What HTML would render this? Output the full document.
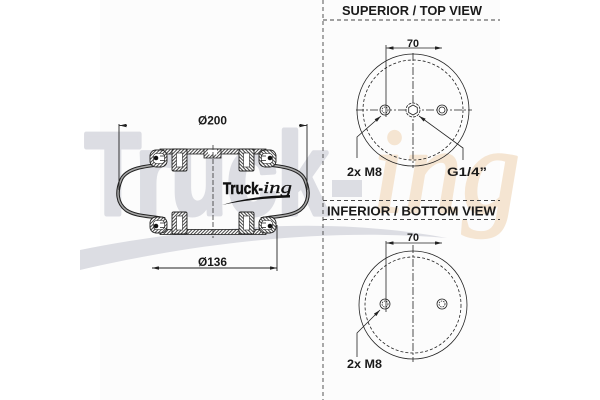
<!DOCTYPE html>
<html><head><meta charset="utf-8"><style>
html,body{margin:0;padding:0;background:#fff;}
svg{display:block;}
</style></head><body>
<svg width="600" height="400" viewBox="0 0 600 400" xmlns="http://www.w3.org/2000/svg">
<defs>
<pattern id="h" width="2.4" height="2.4" patternUnits="userSpaceOnUse" patternTransform="rotate(45)">
<rect width="2.4" height="2.4" fill="#fff"/><line x1="0.5" y1="0" x2="0.5" y2="2.4" stroke="#444" stroke-width="1"/></pattern>
<marker id="a" viewBox="0 0 8 4" refX="8" refY="2" markerWidth="7" markerHeight="3.5" markerUnits="userSpaceOnUse" orient="auto"><path d="M0,0 L8,2 L0,4 Z" fill="#222"/></marker>
</defs>
<rect x="100" y="0" width="400" height="400" fill="#fcfcfc"/>

<!-- watermark -->
<text x="85" y="214" font-family="Liberation Sans, sans-serif" font-weight="bold" font-size="116" fill="#dcdde3" stroke="#dcdde3" stroke-width="5" stroke-linejoin="round" textLength="243" lengthAdjust="spacingAndGlyphs">Truck</text>
<rect x="332" y="180" width="30" height="17" fill="#dcdde3"/>
<text x="372" y="212" font-family="Liberation Serif, serif" font-style="italic" font-size="122" fill="#f5e5d2" stroke="#f5e5d2" stroke-width="2.5" stroke-linejoin="round" textLength="148" lengthAdjust="spacingAndGlyphs">ing</text>
<path d="M80,250 C200,226 330,216 447,238 C330,228 200,242 80,270 Z" fill="#dcdde3"/>

<!-- bellows -->
<g stroke="#222" stroke-width="0.8">
<rect x="160" y="149" width="106" height="5" fill="url(#h)"/>
<rect x="204" y="149" width="17" height="9" fill="url(#h)"/>
<rect x="208" y="149.5" width="9" height="5" fill="#fff" stroke="none"/>
<rect x="160" y="229.5" width="106" height="5" fill="url(#h)"/>
</g>
<g id="half" stroke="#222">
<path d="M165,164 C145,166 126,168 121,180 C116,192 117,203 126,210 C136,217 152,216 165,219" fill="none" stroke="#222" stroke-width="3.6"/>
<path d="M165,164 C145,166 126,168 121,180 C116,192 117,203 126,210 C136,217 152,216 165,219" fill="none" stroke="#a8a8a8" stroke-width="1.5"/>
<rect x="150" y="150" width="17" height="17" rx="6" fill="url(#h)" stroke-width="0.9"/>
<rect x="153.5" y="153.5" width="11" height="10" rx="3" fill="#fff" stroke-width="0.6"/>
<circle cx="156" cy="158" r="2.3" fill="#111" stroke="none"/>
<path d="M160,156 H165 M160,160.5 H165" stroke-width="0.7"/>
<rect x="172" y="149" width="15" height="22" rx="1.5" fill="url(#h)" stroke-width="0.9"/>
<rect x="176.5" y="153" width="6" height="14" fill="#fff" stroke-width="0.6"/>
<rect x="150" y="217" width="17" height="16" rx="6" fill="url(#h)" stroke-width="0.9"/>
<rect x="153.5" y="220.5" width="11" height="9" rx="3" fill="#fff" stroke-width="0.6"/>
<circle cx="156" cy="226" r="2.3" fill="#111" stroke="none"/>
<path d="M160,223 H165 M160,227.5 H165" stroke-width="0.7"/>
<rect x="172" y="212" width="15" height="22" rx="1.5" fill="url(#h)" stroke-width="0.9"/>
<rect x="176.5" y="216" width="6" height="14" fill="#fff" stroke-width="0.6"/>
</g>
<use href="#half" transform="translate(426,0) scale(-1,1)"/>
<line x1="213" y1="145" x2="213" y2="238" stroke="#333" stroke-width="0.8" stroke-dasharray="5 2"/>

<!-- logo -->
<text x="223" y="194" font-family="Liberation Sans, sans-serif" font-weight="bold" font-size="17" fill="#111" stroke="#111" stroke-width="0.6" textLength="40" lengthAdjust="spacingAndGlyphs">Truck-</text>
<text x="263" y="193" font-family="Liberation Serif, serif" font-style="italic" font-size="17" fill="#111" stroke="#111" stroke-width="0.3" textLength="29" lengthAdjust="spacingAndGlyphs">ing</text>
<path d="M222,205 Q250,196 290,195 L290,197.5 Q252,198.5 222,205 Z" fill="#111"/>

<!-- dimensions left -->
<g stroke="#222" stroke-width="0.9" fill="none">
<line x1="119" y1="124" x2="119" y2="190"/>
<line x1="307" y1="124" x2="307" y2="190"/>
<line x1="127" y1="125.5" x2="119.5" y2="125.5" marker-end="url(#a)"/>
<line x1="299" y1="125.5" x2="306.5" y2="125.5" marker-end="url(#a)"/>
<line x1="277" y1="225" x2="277" y2="271"/>
<line x1="214" y1="268" x2="152" y2="268" marker-end="url(#a)"/>
<line x1="214" y1="268" x2="277" y2="268" marker-end="url(#a)"/>
</g>
<g font-family="Liberation Sans, sans-serif" font-weight="bold" fill="#1a1a1a">
<text x="198" y="124.5" font-size="11.5" textLength="29" lengthAdjust="spacingAndGlyphs">Ø200</text>
<text x="198" y="266" font-size="11.5" textLength="29" lengthAdjust="spacingAndGlyphs">Ø136</text>
</g>

<!-- right side frames -->
<g stroke="#444" stroke-width="0.9" stroke-dasharray="4 3" fill="none">
<line x1="323" y1="0" x2="323" y2="400"/>
<line x1="323" y1="20" x2="500" y2="20"/>
<line x1="323" y1="200.5" x2="500" y2="200.5"/>
<line x1="323" y1="219.5" x2="500" y2="219.5"/>
</g>
<g font-family="Liberation Sans, sans-serif" font-weight="bold" fill="#1a1a1a">
<text x="342" y="15" font-size="12.5" textLength="140" lengthAdjust="spacingAndGlyphs">SUPERIOR / TOP VIEW</text>
<text x="327" y="215.5" font-size="12.5" textLength="169" lengthAdjust="spacingAndGlyphs">INFERIOR / BOTTOM VIEW</text>
<text x="407" y="47" font-size="11" textLength="12" lengthAdjust="spacingAndGlyphs">70</text>
<text x="407" y="241" font-size="11" textLength="12" lengthAdjust="spacingAndGlyphs">70</text>
<text x="347" y="176" font-size="11.5" textLength="35" lengthAdjust="spacingAndGlyphs">2x M8</text>
<text x="447" y="176" font-size="11.5" textLength="40" lengthAdjust="spacingAndGlyphs">G1/4”</text>
<text x="347" y="368" font-size="11.5" textLength="35" lengthAdjust="spacingAndGlyphs">2x M8</text>
</g>

<!-- top view -->
<g stroke="#222" stroke-width="0.8" fill="none">
<circle cx="413" cy="110" r="56"/>
<circle cx="413" cy="110" r="50" stroke-dasharray="3 2"/>
<line x1="356" y1="110" x2="472" y2="110" stroke-dasharray="8 2 2 2"/>
<line x1="413" y1="53" x2="413" y2="168" stroke-dasharray="8 2 2 2"/>
<circle cx="385" cy="110" r="5" fill="#fff"/>
<circle cx="385" cy="110" r="3" stroke-dasharray="1.5 1"/>
<circle cx="442" cy="110" r="5" fill="#fff"/>
<circle cx="442" cy="110" r="3"/>
<circle cx="413" cy="110" r="7" fill="#fff" stroke-dasharray="3 1"/>
<path d="M413,105 L417.3,107.5 L417.3,112.5 L413,115 L408.7,112.5 L408.7,107.5 Z"/>
<line x1="386" y1="45" x2="386" y2="117"/>
<line x1="414" y1="48" x2="386.5" y2="48" marker-end="url(#a)"/>
<line x1="414" y1="48" x2="442" y2="48" marker-end="url(#a)"/>
<path d="M357,158 V137 L381,116" marker-end="url(#a)"/>
<path d="M463,160 V148 L419,116" marker-end="url(#a)"/>
</g>

<!-- bottom view -->
<g stroke="#222" stroke-width="0.8" fill="none">
<circle cx="413" cy="305" r="54"/>
<circle cx="413" cy="305" r="48" stroke-dasharray="3 2"/>
<line x1="413" y1="245" x2="413" y2="362" stroke-dasharray="8 2 2 2"/>
<circle cx="385" cy="304" r="5" fill="#fff"/>
<circle cx="385" cy="304" r="3" stroke-dasharray="1.5 1"/>
<circle cx="442" cy="304" r="5" fill="#fff"/>
<circle cx="442" cy="304" r="3" stroke-dasharray="1.5 1"/>
<line x1="386" y1="241" x2="386" y2="312"/>
<line x1="414" y1="243" x2="386.5" y2="243" marker-end="url(#a)"/>
<line x1="414" y1="243" x2="442" y2="243" marker-end="url(#a)"/>
<path d="M357,357 V333 L380,310" marker-end="url(#a)"/>
</g>
</svg>
</body></html>
